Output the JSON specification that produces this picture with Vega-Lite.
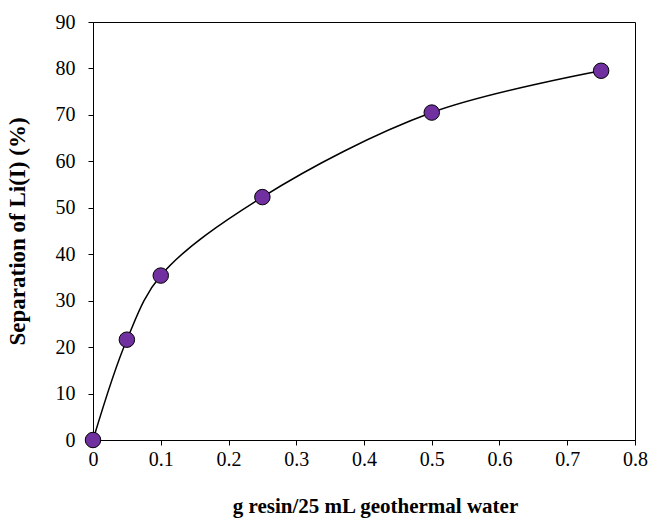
{
  "$schema": "https://vega.github.io/schema/vega-lite/v6.json",
  "autosize": "none",
  "width": 542,
  "height": 418,
  "padding": {"left": 93, "top": 22, "right": 13, "bottom": 79},
  "config": {
    "view": {"stroke": "black", "strokeWidth": 1},
    "font": "Liberation Serif",
    "axis": {
      "grid": false,
      "domainColor": "black",
      "tickColor": "black",
      "tickSize": 5,
      "labelFont": "Liberation Serif",
      "labelFontSize": 20,
      "labelColor": "black",
      "titleFont": "Liberation Serif",
      "titleFontSize": 21,
      "titleFontWeight": "bold",
      "titleColor": "black"
    }
  },
  "data": {
    "values": [
      {"x": 0, "y": 0},
      {"x": 0.05, "y": 21.6},
      {"x": 0.1, "y": 35.4},
      {"x": 0.25, "y": 52.3},
      {"x": 0.5, "y": 70.5},
      {"x": 0.75, "y": 79.5}
    ]
  },
  "encoding": {
    "x": {
      "field": "x",
      "type": "quantitative",
      "scale": {"domain": [0, 0.8], "nice": false, "zero": false},
      "axis": {"values": [0, 0.1, 0.2, 0.3, 0.4, 0.5, 0.6, 0.7, 0.8], "format": "~g", "title": "g resin/25 mL geothermal water", "labelPadding": 4, "titlePadding": 26, "labelFlush": false, "titleX": 282, "titleAlign": "center"}
    },
    "y": {
      "field": "y",
      "type": "quantitative",
      "scale": {"domain": [0, 90], "nice": false},
      "axis": {"values": [0, 10, 20, 30, 40, 50, 60, 70, 80, 90], "title": "Separation of Li(I) (%)", "titleFontSize": 23, "labelPadding": 13, "titlePadding": 26, "labelFlush": false}
    }
  },
  "layer": [
    {"mark": {"type": "line", "interpolate": "catmull-rom", "color": "black", "strokeWidth": 1.5}},
    {"mark": {"type": "point", "filled": true, "fill": "#7030A0", "stroke": "black", "strokeWidth": 1, "size": 240, "opacity": 1}}
  ]
}
